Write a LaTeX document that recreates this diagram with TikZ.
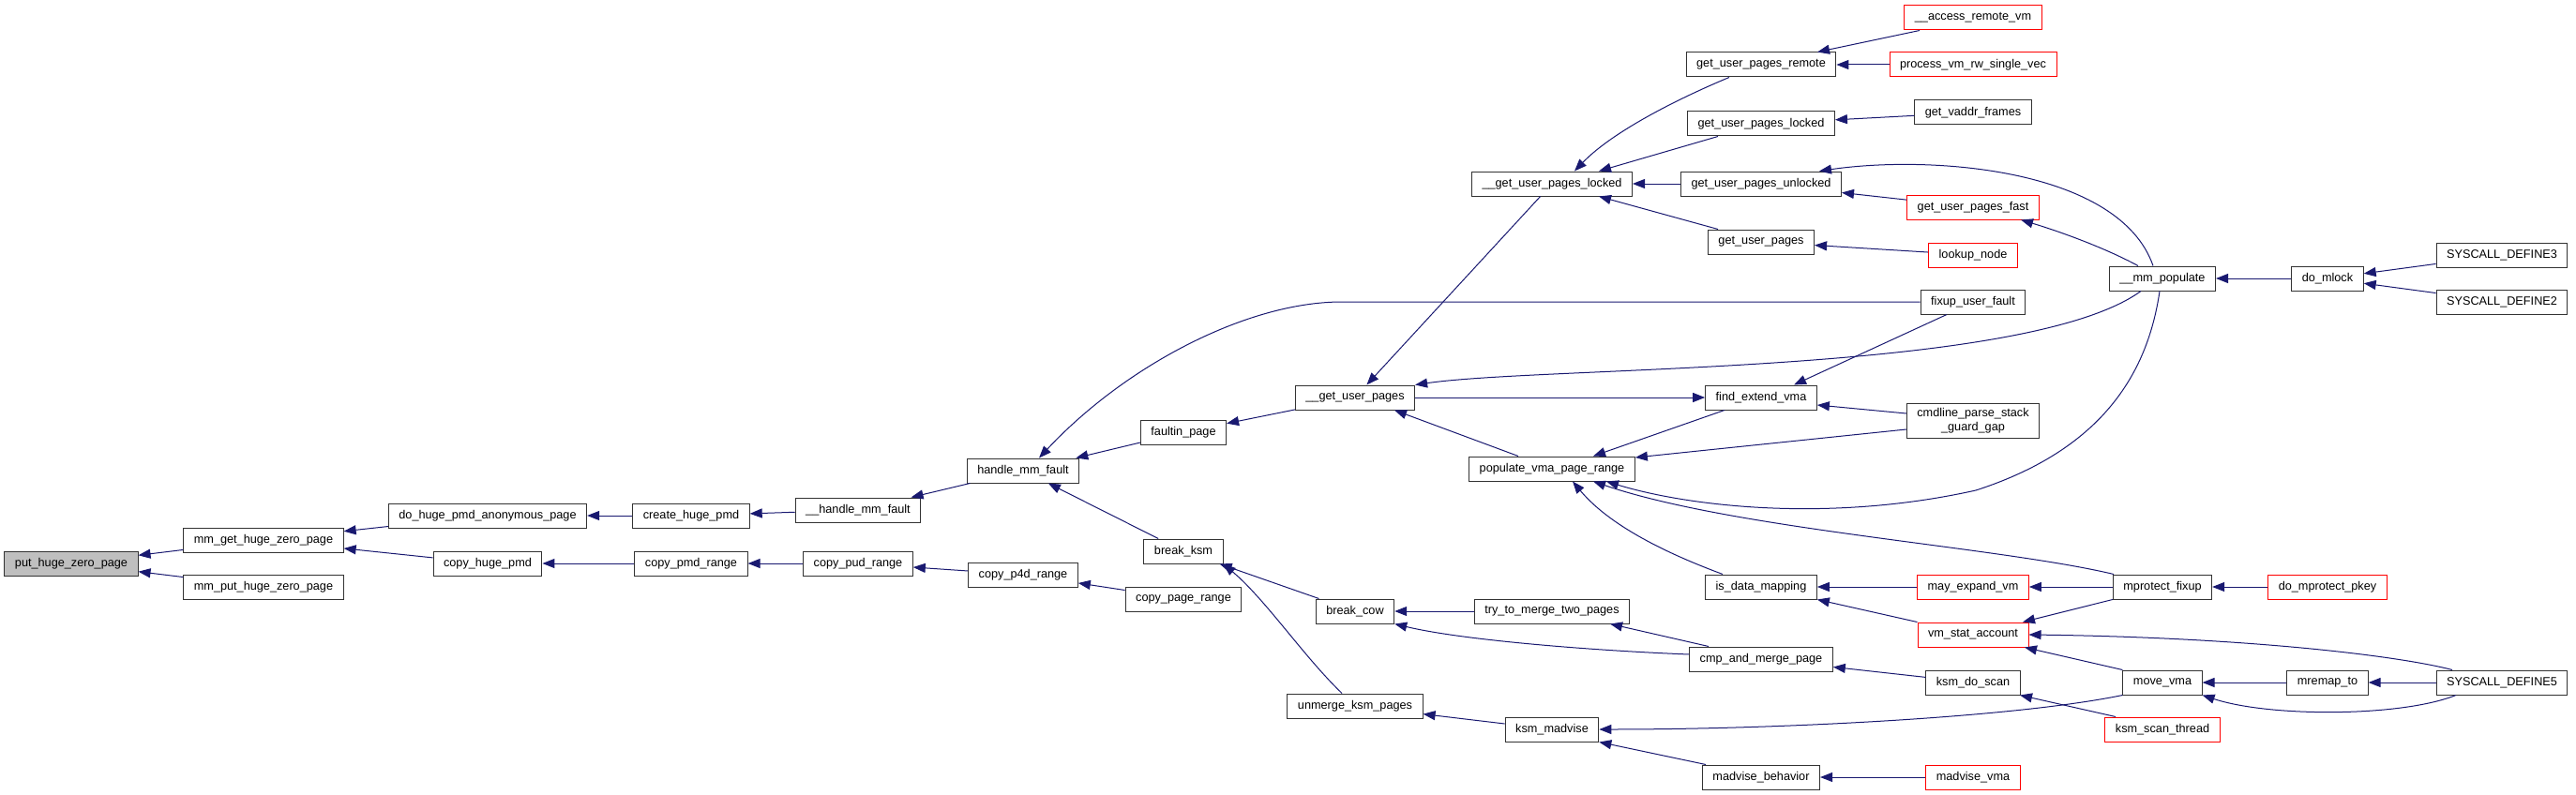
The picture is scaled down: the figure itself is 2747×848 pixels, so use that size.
\documentclass[tikz,border=0pt]{standalone}
\usepackage{fontspec}
\setmainfont{Liberation Sans}
\usepackage{tikz}
\usetikzlibrary{arrows.meta}
\definecolor{edgeblue}{HTML}{191970}
\begin{document}
\begin{tikzpicture}[x=1pt, y=-1pt, >={Triangle[length=13pt, width=10pt]},
  fn/.style={draw=black!80, line width=1pt, font=\fontsize{12.7}{15}\selectfont, align=center, inner xsep=11pt, inner ysep=5pt, minimum height=26pt},
  fnred/.style={fn, draw=red},
  cl/.style={->, draw=edgeblue, fill=none, line width=1pt}]
  \useasboundingbox (0,0) rectangle (2747,848);
  \node[fn, fill=gray!50] (phz) at (76,601) {put\_huge\_zero\_page};
  \node[fn] (mgz) at (281,576) {mm\_get\_huge\_zero\_page};
  \node[fn] (mpz) at (281,626) {mm\_put\_huge\_zero\_page};
  \node[fn] (dha) at (520,550) {do\_huge\_pmd\_anonymous\_page};
  \node[fn] (chp) at (520,601) {copy\_huge\_pmd};
  \node[fn] (crp) at (737,550) {create\_huge\_pmd};
  \node[fn] (cpm) at (737,601) {copy\_pmd\_range};
  \node[fn] (hmf2) at (915,544) {\_\_handle\_mm\_fault};
  \node[fn] (cpu) at (915,601) {copy\_pud\_range};
  \node[fn] (hmf) at (1091,502) {handle\_mm\_fault};
  \node[fn] (cp4) at (1091,613) {copy\_p4d\_range};
  \node[fn] (fp) at (1262,461) {faultin\_page};
  \node[fn] (bk) at (1262,588) {break\_ksm};
  \node[fn] (cpr) at (1262,639) {copy\_page\_range};
  \node[fn] (gup) at (1445,424) {\_\_get\_user\_pages};
  \node[fn] (bc) at (1445,652) {break\_cow};
  \node[fn] (uks) at (1445,753) {unmerge\_ksm\_pages};
  \node[fn] (gupl) at (1655,196) {\_\_get\_user\_pages\_locked};
  \node[fn] (pvr) at (1655,500) {populate\_vma\_page\_range};
  \node[fn] (tmt) at (1655,652) {try\_to\_merge\_two\_pages};
  \node[fn] (kma) at (1655,778) {ksm\_madvise};
  \node[fn] (gur) at (1878,69) {get\_user\_pages\_remote};
  \node[fn] (gul) at (1878,132) {get\_user\_pages\_locked};
  \node[fn] (guu) at (1878,196) {get\_user\_pages\_unlocked};
  \node[fn] (gu) at (1878,258) {get\_user\_pages};
  \node[fn] (fev) at (1878,424) {find\_extend\_vma};
  \node[fn] (idm) at (1878,626) {is\_data\_mapping};
  \node[fn] (cmp) at (1878,703) {cmp\_and\_merge\_page};
  \node[fn] (mb) at (1878,829) {madvise\_behavior};
  \node[fnred] (arv) at (2104,19) {\_\_access\_remote\_vm};
  \node[fnred] (pvm) at (2104,69) {process\_vm\_rw\_single\_vec};
  \node[fn] (gvf) at (2104,120) {get\_vaddr\_frames};
  \node[fnred] (guf) at (2104,221) {get\_user\_pages\_fast};
  \node[fnred] (ln) at (2104,272) {lookup\_node};
  \node[fn] (fuf) at (2104,322) {fixup\_user\_fault};
  \node[fn] (cps) at (2104,449) {cmdline\_parse\_stack\\\_guard\_gap};
  \node[fnred] (mev) at (2104,626) {may\_expand\_vm};
  \node[fnred] (vsa) at (2104,677) {vm\_stat\_account};
  \node[fn] (kds) at (2104,728) {ksm\_do\_scan};
  \node[fnred] (mv) at (2104,829) {madvise\_vma};
  \node[fn] (mmp) at (2306,297) {\_\_mm\_populate};
  \node[fn] (mpf) at (2306,626) {mprotect\_fixup};
  \node[fn] (mvv) at (2306,728) {move\_vma};
  \node[fnred] (kst) at (2306,778) {ksm\_scan\_thread};
  \node[fn] (dml) at (2482,297) {do\_mlock};
  \node[fnred] (dmp) at (2482,626) {do\_mprotect\_pkey};
  \node[fn] (mrt) at (2482,728) {mremap\_to};
  \node[fn] (sd3) at (2668,272) {SYSCALL\_DEFINE3};
  \node[fn] (sd2) at (2668,322) {SYSCALL\_DEFINE2};
  \node[fn] (sd5) at (2668,728) {SYSCALL\_DEFINE5};
  \draw[cl] (mgz) -- (phz);  \draw[cl] (mpz) -- (phz);
  \draw[cl] (dha) -- (mgz);  \draw[cl] (chp) -- (mgz);
  \draw[cl] (crp) -- (dha);  \draw[cl] (cpm) -- (chp);
  \draw[cl] (hmf2) -- (crp); \draw[cl] (cpu) -- (cpm);
  \draw[cl] (hmf) -- (hmf2); \draw[cl] (cp4) -- (cpu);
  \draw[cl] (cpr) -- (cp4);  \draw[cl] (fp) -- (hmf);
  \draw[cl] (bk) -- (hmf);   \draw[cl] (gup) -- (fp);
  \draw[cl] (bc) -- (bk);    \draw[cl] (gupl) -- (gup);
  \draw[cl] (guu) -- (gupl); \draw[cl] (pvm) -- (gur);
  \draw[cl] (gvf) -- (gul);  \draw[cl] (guf) -- (guu);
  \draw[cl] (ln) -- (gu);    \draw[cl] (dml) -- (mmp);
  \draw[cl] (sd3) -- (dml);  \draw[cl] (sd2) -- (dml);
  \draw[cl] (gup) -- (fev);  \draw[cl] (tmt) -- (bc);
  \draw[cl] (kma) -- (uks);  \draw[cl] (mv) -- (mb);
  \draw[cl] (mev) -- (idm);  \draw[cl] (kds) -- (cmp);
  \draw[cl] (mpf) -- (mev);  \draw[cl] (dmp) -- (mpf);
  \draw[cl] (mrt) -- (mvv);  \draw[cl] (sd5) -- (mrt);
  \draw[cl] ([xshift=-46pt]gul.south) -- ([xshift=50pt]gupl.north);
  \draw[cl] ([xshift=-46pt]gu.north) -- ([xshift=50pt]gupl.south);
  \draw[cl] ([xshift=-57pt]arv.south) -- ([xshift=60pt]gur.north);
  \draw[cl] ([xshift=-28pt]fuf.south) -- ([xshift=35pt]fev.north);
  \draw[cl] ([xshift=-36pt]pvr.north) -- ([xshift=42pt]gup.south);
  \draw[cl] ([xshift=-39pt]fev.south) -- ([xshift=44pt]pvr.north);
  \draw[cl] ([yshift=8pt]cps.west) -- ([yshift=-8pt]fev.east);
  \draw[cl] ([yshift=-9pt]cps.west) -- ([yshift=12pt]pvr.east);
  \draw[cl] ([xshift=-56pt]cmp.north) -- ([xshift=62pt]tmt.south);
  \draw[cl] ([xshift=-59pt]mb.north) -- (kma.south east);
  \draw[cl] (vsa.north west) -- (idm.south east);
  \draw[cl] (mpf.south west) -- ([xshift=53pt]vsa.north);
  \draw[cl] (mvv.north west) -- ([xshift=55pt]vsa.south);
  \draw[cl] ([xshift=-50pt]kst.north) -- ([xshift=50pt]kds.south);
  \draw[cl] (fuf.west) -- (1431,322) .. controls (1330,322) and (1200,390) .. ([xshift=17pt]hmf.north);
  \draw[cl] ([xshift=-14pt]uks.north) .. controls (1390,700) and (1350,640) .. (bk.south east);
  \draw[cl] ([xshift=-34pt]gur.south) .. controls (1790,105) and (1720,140) .. ([xshift=24pt]gupl.north);
  \draw[cl] ([xshift=-10pt]mmp.north) .. controls (2260,180) and (2060,165) .. ([xshift=62pt]guu.north);
  \draw[cl] ([xshift=-26pt]mmp.north) .. controls (2240,262) and (2190,245) .. ([xshift=51pt]guf.south);
  \draw[cl] ([xshift=-23pt]mmp.south) .. controls (2160,400) and (1650,390) .. (gup.north east);
  \draw[cl] ([xshift=-3pt]mmp.south) .. controls (2290,400) and (2240,480) .. (2107,523) .. controls (1950,558) and (1800,540) .. ([xshift=58pt]pvr.south);
  \draw[cl] ([xshift=-52pt]mpf.north) .. controls (2130,583) and (1850,565) .. ([xshift=44pt]pvr.south);
  \draw[cl] ([xshift=-41pt]idm.north) .. controls (1790,595) and (1720,565) .. ([xshift=22pt]pvr.south);
  \draw[cl] ([yshift=5pt]cmp.west) .. controls (1700,694) and (1560,683) .. (bc.south east);
  \draw[cl] (mvv.south west) .. controls (2150,765) and (1900,778) .. (kma.east);
  \draw[cl] ([xshift=-53pt]sd5.north) .. controls (2560,700) and (2400,680) .. (vsa.east);
  \draw[cl] ([xshift=-49pt]sd5.south) .. controls (2560,765) and (2420,765) .. (mvv.south east);
\end{tikzpicture}
\end{document}
